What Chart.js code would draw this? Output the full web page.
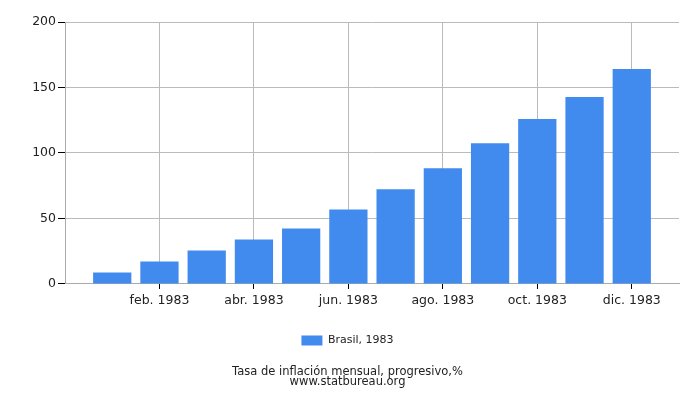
<!DOCTYPE html>
<html>
<head>
<meta charset="utf-8">
<script src="https://cdn.jsdelivr.net/npm/chart.js@4"></script>
<style>
html,body{margin:0;padding:0;background:#fff;}
#wrap{width:700px;height:400px;}
</style>
</head>
<body>
<div id="wrap"><canvas id="c"></canvas></div>
<script>
const months = ['ene. 1983','feb. 1983','mar. 1983','abr. 1983','may. 1983','jun. 1983','jul. 1983','ago. 1983','sep. 1983','oct. 1983','nov. 1983','dic. 1983'];
const values = [8.7, 17.1, 25.5, 34.0, 42.4, 56.9, 72.3, 88.4, 107.5, 125.9, 142.8, 164.2];
const shownLabels = ['feb. 1983','abr. 1983','jun. 1983','ago. 1983','oct. 1983','dic. 1983'];
const seriesName = 'Brasil, 1983';
const titleLines = ['Tasa de inflación mensual, progresivo,%', 'www.statbureau.org'];
const yTicks = [0, 50, 100, 150, 200];

const labels = [''].concat(months, ['']);
const data = [null].concat(values, [null]);
const isShown = (i) => shownLabels.includes(labels[i]);

Chart.defaults.font.family = '"DejaVu Sans", Verdana, sans-serif';
Chart.defaults.color = '#222';

new Chart(document.getElementById('c'), {
  type: 'bar',
  data: {
    labels: labels,
    datasets: [{
      label: seriesName,
      data: data,
      backgroundColor: '#428bee',
      borderWidth: 0,
      categoryPercentage: 1,
      barPercentage: 0.81
    }]
  },
  options: {
    responsive: true,
    maintainAspectRatio: false,
    animation: false,
    layout: { padding: { top: 22, right: 21, left: 16, bottom: 6 } },
    scales: {
      x: {
        type: 'category',
        offset: false,
        grid: {
          offset: false,
          color: (ctx) => (ctx.index !== undefined && isShown(ctx.index)) ? '#bbbbbb' : 'rgba(0,0,0,0)',
          tickColor: (ctx) => (ctx.index !== undefined && isShown(ctx.index)) ? '#000' : 'rgba(0,0,0,0)',
          tickLength: 5,
          drawOnChartArea: true
        },
        border: { color: '#aaaaaa', width: 1 },
        ticks: {
          autoSkip: false,
          maxRotation: 0,
          padding: 4,
          font: { size: 12.5 },
          callback: function(v, i) { return isShown(i) ? labels[i] : ''; }
        }
      },
      y: {
        min: yTicks[0],
        max: yTicks[yTicks.length - 1],
        afterBuildTicks: (axis) => { axis.ticks = yTicks.map(v => ({ value: v })); },
        afterFit: (axis) => { axis.width = 49; },
        grid: { color: '#bbbbbb', tickColor: '#000', tickLength: 7 },
        border: { color: '#aaaaaa', width: 1 },
        ticks: { padding: 2, font: { size: 12.5 } }
      }
    },
    plugins: {
      legend: {
        position: 'bottom',
        labels: { boxWidth: 21, boxHeight: 10, padding: 23, font: { size: 11 }, color: '#222' }
      },
      title: {
        display: true,
        position: 'bottom',
        text: titleLines,
        font: { size: 11.5, weight: 'normal', lineHeight: 0.87 },
        color: '#222',
        padding: { top: 11, bottom: 7 }
      },
      tooltip: { enabled: false }
    }
  }
});
</script>
</body>
</html>
